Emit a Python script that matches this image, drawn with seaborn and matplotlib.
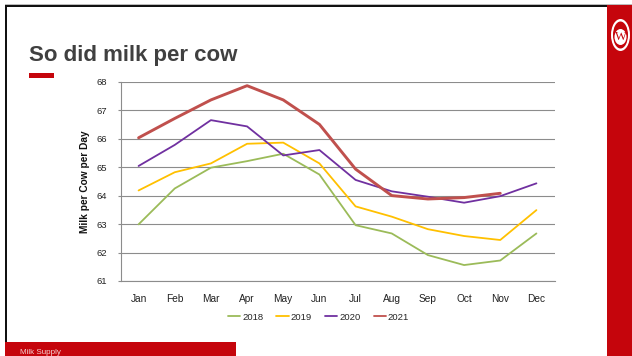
import matplotlib
matplotlib.use("Agg")
import matplotlib.pyplot as plt
import seaborn as sns
import pandas as pd
import numpy as np
from matplotlib.patches import Rectangle, Ellipse

months = ["Jan", "Feb", "Mar", "Apr", "May", "Jun", "Jul", "Aug", "Sep", "Oct", "Nov", "Dec"]
years = ["2018", "2019", "2020", "2021"]
v2018 = [62.99, 64.25, 64.98, 65.21, 65.47, 64.74, 62.96, 62.67, 61.91, 61.56, 61.72, 62.67]
v2019 = [64.18, 64.82, 65.13, 65.82, 65.86, 65.13, 63.62, 63.26, 62.82, 62.58, 62.44, 63.49]
v2020 = [65.04, 65.78, 66.65, 66.43, 65.41, 65.60, 64.55, 64.15, 63.96, 63.75, 63.98, 64.43]
v2021 = [66.03, 66.71, 67.36, 67.86, 67.36, 66.50, 64.93, 64.00, 63.88, 63.93, 64.08, None]
series = {"2018": v2018, "2019": v2019, "2020": v2020, "2021": v2021}
colors = {"2018": "#9BBB59", "2019": "#FFC000", "2020": "#7030A0", "2021": "#C0504D"}
widths = {"2018": 1.3, "2019": 1.3, "2020": 1.3, "2021": 2.1}

rows = []
for y in years:
    for m, v in zip(months, series[y]):
        if v is not None:
            rows.append({"Month": m, "Year": y, "Value": v})
df = pd.DataFrame(rows)

sns.set_theme(style="white")
plt.rcParams['font.family'] = ['Liberation Sans', 'DejaVu Sans']

W, H = 632, 356
fig = plt.figure(figsize=(W / 100, H / 100), dpi=100)
fig.patch.set_facecolor("white")

# decoration overlay in pixel coordinates
deco = fig.add_axes([0, 0, 1, 1], zorder=-1)
deco.set_xlim(0, W)
deco.set_ylim(H, 0)
deco.axis("off")
deco.patch.set_alpha(0)
uw_red = "#C5050C"
deco.add_patch(Rectangle((5, 3.5), W - 5, 1.2, color="#BBBBBB", lw=0))
deco.add_patch(Rectangle((5, 4.7), 602, 2.0, color="#111111", lw=0))
deco.add_patch(Rectangle((5, 4.7), 2.0, 337, color="#111111", lw=0))
deco.add_patch(Rectangle((607.3, 4.7), W - 607.3, H, color=uw_red, lw=0))
deco.add_patch(Rectangle((5, 341.7), 231, 20, color=uw_red, lw=0))
deco.add_patch(Rectangle((29, 72.7), 25, 5.3, color=uw_red, lw=0))
# crest
deco.add_patch(Ellipse((620.5, 35), 19, 32, color="white", lw=0))
deco.add_patch(Ellipse((620.5, 35), 15, 27, color=uw_red, lw=0))
deco.add_patch(Ellipse((620.5, 37), 12, 16, color="white", lw=0))
deco.text(620.5, 37.5, "W", color=uw_red, fontsize=9, ha="center", va="center",
          family=["Liberation Serif", "DejaVu Serif"])
deco.text(29, 55.5, "So did milk per cow", fontsize=16, fontweight="bold",
          color="#404040", ha="left", va="center")
deco.text(20, 352, "Milk Supply", fontsize=5.8, color="#F3D0D0", ha="left", va="center")

ax = fig.add_axes([120.5 / W, 1 - 281 / H, 434 / W, (281 - 81.7) / H])
for y in years:
    sns.lineplot(data=df[df["Year"] == y], x="Month", y="Value", ax=ax,
                 color=colors[y], linewidth=widths[y], label=y, sort=False)

ax.set_xlim(-0.5, 11.5)
ax.set_ylim(61, 68)
ax.set_yticks(range(61, 69))
ax.set_xticks(range(12))
ax.set_xticklabels(months)
ax.set_xticks(np.arange(-0.5, 12, 1), minor=True)
ax.yaxis.grid(True, color="#8C8C8C", linewidth=0.8)
ax.xaxis.grid(False)
ax.set_axisbelow(True)
for s in ["top", "right"]:
    ax.spines[s].set_visible(False)
for s in ["left", "bottom"]:
    ax.spines[s].set_color("#8C8C8C")
    ax.spines[s].set_linewidth(0.8)
ax.tick_params(axis="x", which="major", length=0, pad=9, labelsize=7.3, labelcolor="#222222")
ax.tick_params(axis="x", which="minor", length=3, width=0.8, color="#8C8C8C", direction="out")
ax.tick_params(axis="y", length=2.5, width=0.8, color="#8C8C8C", pad=7, labelsize=6.8,
               labelcolor="#222222", left=True)
ax.set_xlabel("")
ax.set_ylabel("Milk per Cow per Day", fontsize=7.3, fontweight="bold", color="#111111", labelpad=5)

leg = ax.legend(loc="center", bbox_to_anchor=(318.5 / W, 1 - 317 / H), bbox_transform=fig.transFigure,
                ncol=4, frameon=False, fontsize=6.8, handlelength=1.3, handletextpad=0.2,
                columnspacing=1.4)
for line in leg.get_lines():
    line.set_linewidth(1.3)

fig.savefig("out.png", dpi=100)
